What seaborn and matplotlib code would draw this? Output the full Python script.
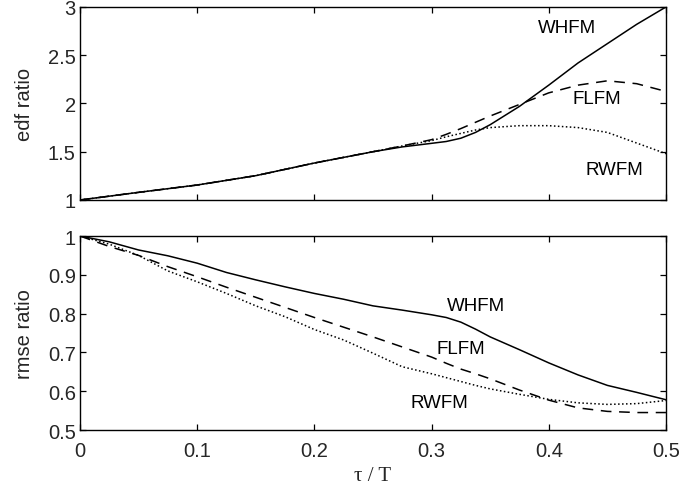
import numpy as np
import pandas as pd
import matplotlib
matplotlib.use("Agg")
import matplotlib.pyplot as plt
import seaborn as sns
from matplotlib.ticker import FormatStrFormatter

# ---- data ----
models = ["WHFM", "FLFM", "RWFM"]

tau_edf = [0, 0.05, 0.1, 0.15, 0.2, 0.25, 0.275, 0.3, 0.3125, 0.325, 0.3375,
           0.35, 0.375, 0.4, 0.425, 0.45, 0.475, 0.5]
edf_whfm = [1.0, 1.079, 1.155, 1.252, 1.383, 1.50, 1.55, 1.587, 1.606, 1.64,
            1.70, 1.78, 1.97, 2.19, 2.42, 2.62, 2.82, 3.0]
edf_flfm = [1.0, 1.079, 1.155, 1.252, 1.383, 1.50, 1.56, 1.625, 1.68, 1.74,
            1.805, 1.87, 1.99, 2.11, 2.19, 2.235, 2.205, 2.125]
edf_rwfm = [1.0, 1.079, 1.155, 1.252, 1.383, 1.50, 1.56, 1.615, 1.655, 1.69,
            1.725, 1.75, 1.77, 1.77, 1.75, 1.70, 1.59, 1.48]

tau_rmse = [0, 0.025, 0.05, 0.075, 0.1, 0.125, 0.15, 0.175, 0.2, 0.225, 0.25,
            0.275, 0.3, 0.3125, 0.325, 0.3375, 0.35, 0.375, 0.4, 0.425, 0.45,
            0.475, 0.5]
rmse_whfm = [1.0, 0.985, 0.964, 0.949, 0.93, 0.906, 0.887, 0.869, 0.852, 0.837,
             0.82, 0.809, 0.797, 0.79, 0.778, 0.76, 0.74, 0.707, 0.673, 0.642,
             0.615, 0.597, 0.578]
rmse_flfm = [1.0, 0.973, 0.95, 0.921, 0.895, 0.868, 0.842, 0.816, 0.79, 0.765,
             0.74, 0.714, 0.688, 0.672, 0.657, 0.645, 0.632, 0.603, 0.577,
             0.557, 0.548, 0.545, 0.545]
rmse_rwfm = [1.0, 0.979, 0.95, 0.91, 0.882, 0.852, 0.82, 0.792, 0.759, 0.732,
             0.698, 0.663, 0.645, 0.635, 0.625, 0.615, 0.606, 0.592, 0.579,
             0.57, 0.566, 0.568, 0.576]

edf_labels = {"WHFM": (0.4155, 2.79), "FLFM": (0.441, 2.05), "RWFM": (0.456, 1.32)}
rmse_labels = {"WHFM": (0.338, 0.82), "FLFM": (0.325, 0.711), "RWFM": (0.307, 0.57)}

# long tables for seaborn
edf_df = pd.DataFrame({
    "tau": tau_edf * 3,
    "value": edf_whfm + edf_flfm + edf_rwfm,
    "model": np.repeat(models, len(tau_edf)),
})
rmse_df = pd.DataFrame({
    "tau": tau_rmse * 3,
    "value": rmse_whfm + rmse_flfm + rmse_rwfm,
    "model": np.repeat(models, len(tau_rmse)),
})

sns.set_style("white")
plt.rcParams['font.family'] = ['Liberation Sans', 'DejaVu Sans']
plt.rcParams['axes.linewidth'] = 1.0
plt.rcParams['xtick.direction'] = 'in'
plt.rcParams['ytick.direction'] = 'in'

dash_map = {"WHFM": "", "FLFM": (7, 5), "RWFM": (1, 1.6)}

fig = plt.figure(figsize=(6.98, 4.89), dpi=100)
ax1 = fig.add_axes([0.1146, 0.5890, 0.8395, 0.3947])
ax2 = fig.add_axes([0.1146, 0.1186, 0.8395, 0.3967])

for ax, df, labels in [(ax1, edf_df, edf_labels), (ax2, rmse_df, rmse_labels)]:
    sns.lineplot(data=df, x="tau", y="value", style="model", dashes=dash_map,
                 color="black", linewidth=1.1, legend=False, ax=ax,
                 estimator=None, sort=False)
    for name, (lx, ly) in labels.items():
        ax.text(lx, ly, name, ha="center", va="center", fontsize=13.5, color="black")
    ax.set_xlim(0, 0.5)
    ax.set_xticks([0, 0.1, 0.2, 0.3, 0.4, 0.5])
    ax.tick_params(which="both", bottom=True, left=True, top=True, right=True,
                   length=4, width=0.9, labelsize=14.5, color="black")
    ax.tick_params(axis="y", pad=3)
    ax.tick_params(axis="x", pad=8)
    for sp in ax.spines.values():
        sp.set_color("black")
    ax.yaxis.set_major_formatter(FormatStrFormatter('%g'))
    ax.xaxis.set_major_formatter(FormatStrFormatter('%g'))

ax1.set_ylim(1, 3)
ax1.set_yticks([1, 1.5, 2, 2.5, 3])
ax1.set_xticklabels([])
ax1.set_xlabel("")
ax1.set_ylabel("edf ratio", fontsize=14.5, labelpad=10)

ax2.set_ylim(0.5, 1)
ax2.set_yticks([0.5, 0.6, 0.7, 0.8, 0.9, 1.0])
ax2.set_ylabel("rmse ratio", fontsize=14.5, labelpad=10)
ax2.set_xlabel("τ / T", fontsize=15, family=['Liberation Serif', 'DejaVu Serif'],
               labelpad=4)

fig.savefig("out.png", dpi=100)
